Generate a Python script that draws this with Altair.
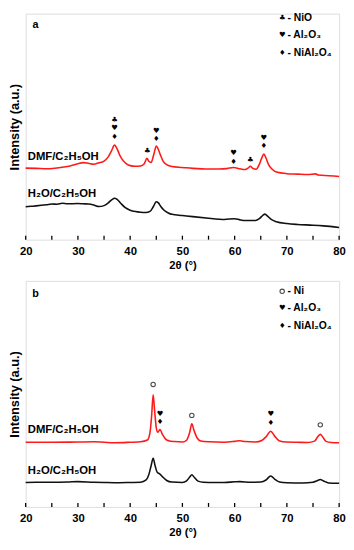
import altair as alt
import pandas as pd

# ---------------- Panel a data ----------------
a_dmf_x = [20, 22, 24, 26, 28, 30, 31, 32, 33, 34, 35, 35.8, 36.4, 37.0, 37.5, 38.0, 38.6, 39.3, 40, 41, 42,
           42.7, 43.2, 43.6, 44.0, 44.5, 45.0, 45.4, 45.8, 46.3, 47, 48, 50, 52, 55, 57, 58.5, 59.8, 61, 62,
           62.6, 63.0, 63.5, 64.1, 64.7, 65.2, 65.6, 66.0, 66.5, 67.2, 68, 70, 72, 74, 75.5, 76, 78, 80]
a_dmf_y = [31.1, 31.0, 30.8, 31.2, 31.8, 33.0, 33.5, 33.2, 32.8, 33.4, 34.2, 36.0, 38.5, 41.1, 39.5, 36.8, 34.5,
           33.0, 32.2, 31.9, 32.0, 33.0, 35.4, 34.0, 33.6, 36.8, 40.7, 39.2, 36.8, 34.2, 32.6, 31.8, 31.4, 31.0,
           30.7, 30.7, 30.9, 31.4, 30.8, 30.5, 31.2, 31.9, 31.0, 30.6, 32.6, 35.6, 37.2, 35.5, 32.6, 30.6, 29.4,
           28.7, 28.5, 28.3, 28.6, 28.1, 27.8, 27.5]
a_h2o_x = [20, 21, 22, 24, 25, 26, 27, 28, 30, 31, 32, 33, 34, 35, 35.8, 36.5, 37.0, 37.5, 38.2, 39, 40, 41,
           42, 43, 43.8, 44.4, 45.0, 45.4, 45.9, 46.5, 47.3, 48, 50, 52, 55, 57, 58, 60, 61, 62, 64, 64.8, 65.4,
           65.8, 66.3, 67, 68, 70, 72, 75, 77, 80]
a_h2o_y = [14.3, 14.5, 14.7, 15.2, 15.5, 15.4, 15.8, 15.6, 15.7, 15.6, 15.5, 15.1, 14.4, 14.8, 16.0, 17.4, 18.0,
           17.5, 15.8, 14.0, 12.8, 12.2, 11.9, 11.8, 12.3, 14.2, 16.5, 16.0, 14.3, 12.8, 11.6, 11.0, 10.5, 10.0,
           9.3, 8.9, 8.8, 9.1, 8.6, 8.3, 8.3, 9.3, 10.6, 11.1, 10.2, 8.8, 7.8, 7.0, 6.6, 6.3, 6.0, 5.3]

a_ann_x = [37, 37, 37, 43.3, 45, 45, 59.8, 59.8, 63, 65.6, 65.6]
a_ann_y = [52.1, 48.6, 44.7, 38.6, 47.4, 43.7, 37.6, 33.9, 34.7, 44.3, 40.7]
a_ann_s = ["♣", "♥", "♦", "♣", "♥", "♦", "♥", "♦", "♣", "♥", "♦"]

a_leg_sym = ["♣", "♥", "♦"]
a_leg_txt = ["- NiO", "- Al₂O₃", "- NiAl₂O₄"]
a_leg_y = [96.2, 89.0, 81.2]

# ---------------- Panel b data ----------------
b_dmf_x = [20, 25, 30, 33, 35, 37, 40, 42, 43.3, 43.8, 44.1, 44.4, 44.7, 45.0, 45.3, 45.7, 46.2, 46.8, 47.5,
           48.5, 50, 50.8, 51.4, 51.8, 52.2, 52.8, 53.5, 55, 58, 60, 61, 62, 64, 65.2, 66.0, 66.9, 67.7, 68.5,
           70, 72, 74, 75.3, 75.9, 76.4, 76.9, 77.5, 78.5, 80]
b_dmf_y = [28.6, 28.6, 28.7, 28.8, 28.6, 28.4, 28.6, 28.8, 29.6, 33.0, 40.0, 49.6, 42.0, 35.0, 33.0, 34.2, 32.0,
           30.0, 29.2, 28.9, 28.7, 29.5, 33.0, 36.8, 34.0, 30.6, 29.2, 28.8, 28.6, 29.0, 29.3, 28.9, 28.7, 29.4,
           31.0, 33.5, 31.2, 29.3, 28.7, 28.6, 28.5, 29.1, 31.0, 32.1, 30.8, 29.0, 28.5, 28.4]
b_h2o_x = [20, 22, 25, 28, 30, 33, 35, 38, 40, 42, 43.0, 43.6, 44.0, 44.4, 44.8, 45.2, 45.6, 46.2, 47, 48, 50,
           50.8, 51.4, 51.8, 52.3, 53, 54, 56, 58, 60, 61, 63, 65, 66.0, 66.9, 67.7, 68.6, 70, 73, 75, 75.8,
           76.4, 77, 78, 80]
b_h2o_y = [10.8, 10.9, 10.9, 11.0, 11.2, 10.9, 10.8, 10.7, 10.8, 10.9, 11.8, 14.5, 18.1, 21.5, 18.0, 15.2, 14.7,
           13.3, 11.7, 11.0, 10.8, 11.5, 13.2, 14.2, 13.0, 11.4, 10.9, 10.8, 10.8, 11.1, 11.2, 10.9, 11.0, 11.9,
           13.7, 12.2, 11.0, 10.7, 10.6, 10.9, 11.6, 12.1, 11.5, 10.6, 10.5]

b_ann_x = [45.7, 45.7, 66.9, 66.9]
b_ann_y = [40.9, 37.6, 40.9, 37.3]
b_ann_s = ["♥", "♦", "♥", "♦"]
b_circ_x = [44.4, 51.8, 76.4]
b_circ_y = [54.2, 40.5, 36.3]

b_leg_sym = ["○", "♥", "♦"]
b_leg_txt = ["- Ni", "- Al₂O₃", "- NiAl₂O₄"]
b_leg_y = [95.4, 88.0, 80.2]

# shared
x_ticks_major = [20, 30, 40, 50, 60, 70, 80]
x_ticks_minor = [25, 35, 45, 55, 65, 75]
series_labels = ["DMF/C₂H₅OH", "H₂O/C₂H₅OH"]

W, H = 319, 230
FONT = "Liberation Sans"
SYMF = "DejaVu Sans"


def panel(letter, dmf_x, dmf_y, h2o_x, h2o_y, ymax, lab_y, ann_x, ann_y, ann_s,
          leg_sym, leg_txt, leg_y, circ_x=None, circ_y=None, letter_y=93.5):
    X = alt.X("x:Q", scale=alt.Scale(domain=[20, 80], nice=False, zero=False),
              axis=alt.Axis(values=x_ticks_major, title="2θ (°)", ticks=False, domain=False, grid=False,
                            labelFont=FONT, labelFontSize=11.5, labelFontWeight="bold", labelColor="black",
                            labelPadding=6, titleFont=FONT, titleFontSize=11.5, titleFontWeight="bold",
                            titleColor="black", titlePadding=3, labelFlush=False))
    Y = alt.Y("y:Q", scale=alt.Scale(domain=[0, ymax], nice=False, zero=False),
              axis=alt.Axis(title="Intensity (a.u.)", labels=False, ticks=False, domain=False, grid=False,
                            titleFont=FONT, titleFontSize=13, titleFontWeight="bold", titleColor="black",
                            titlePadding=4))

    d_dmf = pd.DataFrame({"x": dmf_x, "y": dmf_y})
    d_h2o = pd.DataFrame({"x": h2o_x, "y": h2o_y})
    red = alt.Chart(d_dmf).mark_line(color="#ff1a1a", strokeWidth=1.6, interpolate="monotone").encode(x=X, y=Y)
    blk = alt.Chart(d_h2o).mark_line(color="#111111", strokeWidth=1.6, interpolate="monotone").encode(x=X, y=Y)

    ticks = pd.DataFrame({"x": x_ticks_major + x_ticks_minor})
    tk = alt.Chart(ticks).mark_rule(color="black", strokeWidth=1.3).encode(
        x=X, y=alt.value(H), y2=alt.value(H - 4))

    labs = pd.DataFrame({"x": [20.4, 20.4], "y": lab_y, "t": series_labels})
    lab = alt.Chart(labs).mark_text(align="left", baseline="middle", font=FONT, fontSize=11.5,
                                    fontWeight="bold", color="black").encode(x=X, y=Y, text="t:N")

    ann = pd.DataFrame({"x": ann_x, "y": ann_y, "t": ann_s})
    an = alt.Chart(ann).mark_text(align="center", baseline="middle", font=SYMF, fontSize=7.5,
                                  color="black").encode(x=X, y=Y, text="t:N")

    lg_s = pd.DataFrame({"x": [69.1] * len(leg_sym), "y": leg_y, "t": leg_sym})
    lgs = alt.Chart(lg_s[lg_s.t != "○"]).mark_text(align="center", baseline="middle", font=SYMF, fontSize=7.5,
                                                   color="black").encode(x=X, y=Y, text="t:N")
    lg_t = pd.DataFrame({"x": [70.1] * len(leg_txt), "y": leg_y, "t": leg_txt})
    lgt = alt.Chart(lg_t).mark_text(align="left", baseline="middle", font=FONT, fontSize=10.5,
                                    fontWeight="bold", color="black").encode(x=X, y=Y, text="t:N")

    let = alt.Chart(pd.DataFrame({"x": [21.9], "y": [letter_y], "t": [letter]})).mark_text(
        align="center", baseline="middle", font=FONT, fontSize=11, fontWeight="bold", color="black"
    ).encode(x=X, y=Y, text="t:N")

    layers = [red, blk, tk, lab, an, lgs, lgt, let]
    if circ_x is not None:
        cx = circ_x + [69.1 for s in leg_sym if s == "○"]
        cy = circ_y + [leg_y[i] for i, s in enumerate(leg_sym) if s == "○"]
        cp = alt.Chart(pd.DataFrame({"x": cx, "y": cy})).mark_point(
            shape="circle", filled=False, size=20, color="black", strokeWidth=1.1).encode(x=X, y=Y)
        layers.append(cp)
    return alt.layer(*layers).properties(width=W, height=H)


pa = panel("a", a_dmf_x, a_dmf_y, a_h2o_x, a_h2o_y, 98.3, [36.1, 19.7],
           a_ann_x, a_ann_y, a_ann_s, a_leg_sym, a_leg_txt, a_leg_y, letter_y=93.2)
pb = panel("b", b_dmf_x, b_dmf_y, b_h2o_x, b_h2o_y, 100, [34.2, 15.9],
           b_ann_x, b_ann_y, b_ann_s, b_leg_sym, b_leg_txt, b_leg_y, b_circ_x, b_circ_y, letter_y=94.1)

chart = alt.vconcat(pa, pb, spacing=8).properties(padding=0).configure_view(
    stroke="black", strokeWidth=1.5).configure(background="white")

chart.save("out.html", embed_options={"renderer": "svg", "actions": False})
